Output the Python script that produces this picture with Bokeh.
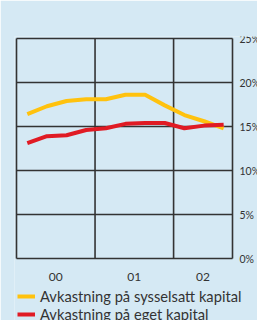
from bokeh.plotting import figure
from bokeh.models import Range1d, FixedTicker, Legend, LegendItem
from bokeh.embed import file_html
from bokeh.resources import INLINE

# data
quarters = ["00K1", "00K2", "00K3", "00K4", "01K1", "01K2", "01K3", "01K4", "02K1", "02K2", "02K3"]
sysselsatt = [16.4, 17.3, 17.9, 18.1, 18.1, 18.6, 18.6, 17.4, 16.3, 15.6, 14.8]
eget = [13.1, 13.9, 14.0, 14.6, 14.8, 15.3, 15.4, 15.4, 14.8, 15.1, 15.2]
years = ["00", "01", "02"]
quarters_per_year = [4, 4, 3]
y_ticks = [0, 5, 10, 15, 20, 25]
series_names = ["Avkastning på sysselsatt kapital", "Avkastning på eget kapital"]

BG = "#d5e9f4"
FONT = "Lato"
TXT = "#333333"
LINE = "#333333"

xs = [i + 0.55 for i in range(len(quarters))]
n_q = sum(quarters_per_year)
y_min, y_max = y_ticks[0], y_ticks[-1]

# layout (pixels)
BOX_W, BOX_H = 216, 220      # chart box size
PAD = 2                      # room so box lines are not clipped
RIGHT = 25                   # space right of the box (percent labels)
BELOW = 62                   # space under the box (year labels + legend)
px_x = BOX_W / n_q
px_y = BOX_H / (y_max - y_min)

p = figure(frame_width=BOX_W + PAD + RIGHT, frame_height=BOX_H + PAD + BELOW,
           output_backend="svg", toolbar_location=None,
           x_range=Range1d(-PAD / px_x, n_q + RIGHT / px_x),
           y_range=Range1d(y_min - BELOW / px_y, y_max + PAD / px_y),
           min_border_left=16 - PAD, min_border_top=38 - PAD, min_border_bottom=0, min_border_right=0,
           y_axis_location="right")
p.background_fill_color = BG
p.border_fill_color = BG
p.outline_line_color = None
p.xgrid.visible = False
p.ygrid.visible = False

# box and grid lines drawn from the data categories / ticks
bounds = [0]
for q in quarters_per_year:
    bounds.append(bounds[-1] + q)
p.segment(x0=[bounds[0]] * len(y_ticks), x1=[bounds[-1]] * len(y_ticks),
          y0=y_ticks, y1=y_ticks, line_color=LINE, line_width=1.6)
p.segment(x0=bounds, x1=bounds, y0=[y_min] * len(bounds), y1=[y_max] * len(bounds),
          line_color=LINE, line_width=1.6)

# x axis: year labels at year centres, placed at 0 %
centers = [(a + b) / 2 for a, b in zip(bounds[:-1], bounds[1:])]
xa = p.xaxis[0]
xa.fixed_location = y_min
xa.ticker = FixedTicker(ticks=centers)
xa.major_label_overrides = {c: y for c, y in zip(centers, years)}
xa.axis_line_color = None
xa.major_tick_line_color = None
xa.minor_tick_line_color = None
xa.major_tick_out = 0
xa.major_tick_in = 0
xa.major_label_text_font = FONT
xa.major_label_text_font_size = "12px"
xa.major_label_text_color = TXT
xa.major_label_standoff = 14

# y axis: percent labels right of the box
ya = p.yaxis[0]
ya.fixed_location = n_q
ya.ticker = FixedTicker(ticks=y_ticks)
ya.major_label_overrides = {t: f"{t}%" for t in y_ticks}
ya.axis_line_color = None
ya.major_tick_line_color = None
ya.minor_tick_line_color = None
ya.major_tick_out = 0
ya.major_tick_in = 0
ya.major_label_text_font = FONT
ya.major_label_text_font_size = "10.5px"
ya.major_label_text_color = TXT
ya.major_label_standoff = 7

r1 = p.line(xs, sysselsatt, line_color="#ffc20e", line_width=4, line_join="round")
r2 = p.line(xs, eget, line_color="#e01b24", line_width=4, line_join="round")

legend = Legend(items=[LegendItem(label=series_names[0], renderers=[r1]),
                       LegendItem(label=series_names[1], renderers=[r2])],
                location=(3, -3), orientation="vertical",
                background_fill_alpha=0, border_line_color=None,
                padding=0, margin=0, spacing=-6,
                glyph_width=18, glyph_height=12, label_height=12,
                label_standoff=5,
                label_text_font=FONT, label_text_font_size="14.7px", label_text_color=TXT)
p.add_layout(legend, "center")

open("out.html", "w").write(file_html(p, INLINE))
